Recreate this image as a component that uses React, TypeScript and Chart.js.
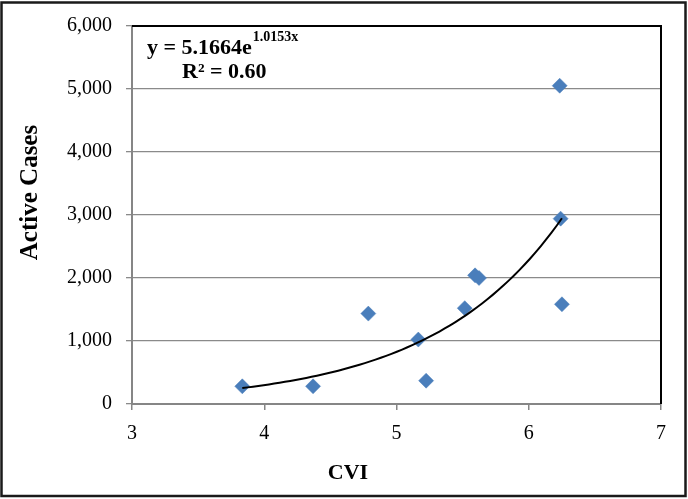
import React, { useEffect, useRef } from "react";
import { Chart, registerables } from "chart.js";

Chart.register(...registerables);

// ---- data ----
const cviValues = [3.834, 4.369, 4.787, 5.165, 5.224, 5.516, 5.594, 5.624, 6.234, 6.241, 6.251];
const activeCases = [281, 281, 1435, 1023, 370, 1521, 2042, 2000, 5052, 2942, 1583];

// exponential trendline shown in the chart: y = A * e^(B x)
const TREND_A = 5.1664;
const TREND_B = 1.0153;
const TREND_SAMPLES = 60;

const xTicks = [3, 4, 5, 6, 7];
const yTicks = [0, 1000, 2000, 3000, 4000, 5000, 6000];

const xTitle = "CVI";
const yTitle = "Active Cases";
const eqMain = "y = 5.1664e";
const eqSup = "1.0153x";
const eqR2 = "R² = 0.60";

const SERIF = "'Liberation Serif', 'Times New Roman', serif";

function trendPoints() {
  const lo = Math.min(...cviValues);
  const hi = Math.max(...cviValues);
  const pts: { x: number; y: number }[] = [];
  for (let i = 0; i <= TREND_SAMPLES; i++) {
    const x = lo + ((hi - lo) * i) / TREND_SAMPLES;
    pts.push({ x, y: TREND_A * Math.exp(TREND_B * x) });
  }
  return pts;
}

const decorPlugin = {
  id: "decor",
  beforeDraw(chart: any) {
    const ctx = chart.ctx;
    ctx.save();
    ctx.fillStyle = "#ffffff";
    ctx.fillRect(0, 0, chart.width, chart.height);
    ctx.restore();
  },
  afterDraw(chart: any) {
    const ctx = chart.ctx;
    const a = chart.chartArea;
    ctx.save();
    // plot area black border (top & right)
    ctx.strokeStyle = "#000000";
    ctx.lineWidth = 2;
    ctx.beginPath();
    ctx.moveTo(a.left, a.top);
    ctx.lineTo(a.right, a.top);
    ctx.lineTo(a.right, a.bottom);
    ctx.stroke();

    // outer chart border
    ctx.strokeStyle = "#1a1a1a";
    ctx.lineWidth = 2.5;
    ctx.strokeRect(1.5, 2.5, chart.width - 4, chart.height - 5.5);

    // trendline equation
    ctx.fillStyle = "#000000";
    ctx.textAlign = "left";
    ctx.textBaseline = "alphabetic";
    ctx.font = `bold 22px ${SERIF}`;
    const ex = a.left + 15;
    ctx.fillText(eqMain, ex, a.top + 28);
    const w = ctx.measureText(eqMain).width;
    ctx.font = `bold 14px ${SERIF}`;
    ctx.fillText(eqSup, ex + w + 1, a.top + 15);
    ctx.font = `bold 22px ${SERIF}`;
    ctx.fillText(eqR2, ex + 35, a.top + 52);

    // axis titles
    ctx.font = `bold 22px ${SERIF}`;
    ctx.textAlign = "center";
    ctx.fillText(xTitle, 348, 479);

    ctx.translate(37, 192.5);
    ctx.rotate(-Math.PI / 2);
    ctx.font = `bold 25px ${SERIF}`;
    ctx.fillText(yTitle, 0, 0);
    ctx.restore();
  },
};

export default function App() {
  const ref = useRef<HTMLCanvasElement | null>(null);

  useEffect(() => {
    document.body.style.margin = "0";
    const canvas = ref.current;
    if (!canvas) return;
    const chart = new Chart(canvas, {
      type: "scatter",
      data: {
        datasets: [
          {
            label: "Trend",
            data: trendPoints(),
            showLine: true,
            borderColor: "#000000",
            borderWidth: 2,
            pointRadius: 0,
            fill: false,
            tension: 0,
          } as any,
          {
            label: "Active Cases",
            data: cviValues.map((x, i) => ({ x, y: activeCases[i] })),
            pointStyle: "rectRot",
            pointRadius: 7.5,
            pointBackgroundColor: "#4A7EBB",
            pointBorderColor: "#4A7EBB",
            pointBorderWidth: 0.5,
            showLine: false,
          } as any,
        ],
      },
      options: {
        responsive: false,
        animation: false,
        devicePixelRatio: 1,
        layout: { padding: { top: 21, right: 27, left: 0, bottom: 0 } },
        plugins: {
          legend: { display: false },
          tooltip: { enabled: false },
        },
        scales: {
          x: {
            type: "linear",
            min: 3,
            max: 7,
            afterBuildTicks: (s: any) => {
              s.ticks = xTicks.map((v) => ({ value: v }));
            },
            afterFit: (s: any) => {
              s.height = 95;
            },
            grid: {
              drawOnChartArea: false,
              drawTicks: true,
              tickLength: 6,
              color: "#868686",
              lineWidth: 1.5,
            },
            border: { display: true, color: "#868686", width: 2 },
            ticks: {
              color: "#000000",
              padding: 12,
              font: { family: SERIF, size: 20 },
              maxRotation: 0,
            },
          },
          y: {
            type: "linear",
            min: 0,
            max: 6000,
            afterBuildTicks: (s: any) => {
              s.ticks = yTicks.map((v) => ({ value: v }));
            },
            afterFit: (s: any) => {
              s.width = 132;
            },
            grid: {
              drawOnChartArea: true,
              drawTicks: true,
              tickLength: 6,
              color: "#8a8a8a",
              lineWidth: 1.3,
            },
            border: { display: true, color: "#868686", width: 2 },
            ticks: {
              color: "#000000",
              padding: 14,
              font: { family: SERIF, size: 20 },
              callback: (v: any) => Number(v).toLocaleString("en-US"),
            },
          },
        },
      },
      plugins: [decorPlugin],
    });
    return () => chart.destroy();
  }, []);

  return (
    <div style={{ position: "absolute", left: 0, top: 0, width: 688, height: 499 }}>
      <canvas ref={ref} width={688} height={499} style={{ display: "block" }} />
    </div>
  );
}
